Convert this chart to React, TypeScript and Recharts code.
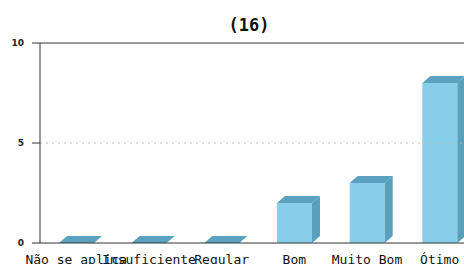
import React from "react";
import { BarChart, Bar, XAxis, YAxis, ReferenceLine } from "recharts";

const categories = ["Não se aplica", "Insuficiente", "Regular", "Bom", "Muito Bom", "Ótimo"];
const counts = [0, 0, 0, 2, 3, 8];
const yTicks = [0, 5, 10];
const title = "(16)";

const data = categories.map((c, i) => ({ name: c, value: counts[i] }));

const FRONT = "#87CEEB";
const SIDE = "#5A9FBC";
const TOP = "#5BA2C0";
const DX = 8;
const DY = 7;

const Bar3D = (props: any) => {
  const { x, y, width, height } = props;
  const h = Math.max(0, height || 0);
  const top = `${x},${y} ${x + DX},${y - DY} ${x + width + DX},${y - DY} ${x + width},${y}`;
  const side = `${x + width},${y} ${x + width + DX},${y - DY} ${x + width + DX},${y + h - DY} ${x + width},${y + h}`;
  return (
    <g>
      {h > 0 && <rect x={x} y={y} width={width} height={h} fill={FRONT} />}
      {h > 0 && <polygon points={side} fill={SIDE} />}
      <polygon points={top} fill={TOP} />
    </g>
  );
};

const XTick = (props: any) => {
  const { x, y, payload } = props;
  return (
    <text x={x} y={y + 19} textAnchor="middle" fontFamily="DejaVu Sans Mono" fontSize={13} fill="#111">
      {payload.value}
    </text>
  );
};

const YTick = (props: any) => {
  const { x, y, payload } = props;
  return (
    <text x={x} y={y + 3} textAnchor="end" fontFamily="DejaVu Sans" fontWeight="bold" fontSize={9} fill="#222">
      {payload.value}
    </text>
  );
};

export default function App() {
  return (
    <div style={{ position: "absolute", left: 0, top: 0, width: 464, height: 264, overflow: "hidden", background: "#fff" }}>
      <div
        style={{
          position: "absolute",
          left: 149,
          top: 15,
          width: 200,
          textAlign: "center",
          fontFamily: "DejaVu Sans Mono",
          fontWeight: "bold",
          fontSize: 17,
          lineHeight: "20px",
          color: "#111",
        }}
      >
        {title}
      </div>
      <BarChart
        width={476}
        height={264}
        data={data}
        margin={{ top: 43, right: 0, bottom: 0, left: 0 }}
        barCategoryGap={19}
      >
        <XAxis
          dataKey="name"
          interval={0}
          tickLine={false}
          tickSize={0}
          height={21}
          stroke="#333"
          tick={<XTick />}
        />
        <YAxis
          domain={[0, 10]}
          ticks={yTicks}
          width={40}
          tickSize={8}
          tickMargin={8}
          stroke="#333"
          tick={<YTick />}
          allowDataOverflow
        />
        <ReferenceLine y={5} stroke="#bbb" strokeDasharray="2 4" />
        <ReferenceLine y={10} stroke="#333" strokeWidth={1.2} />
        <Bar dataKey="value" shape={<Bar3D />} isAnimationActive={false} />
      </BarChart>
    </div>
  );
}
